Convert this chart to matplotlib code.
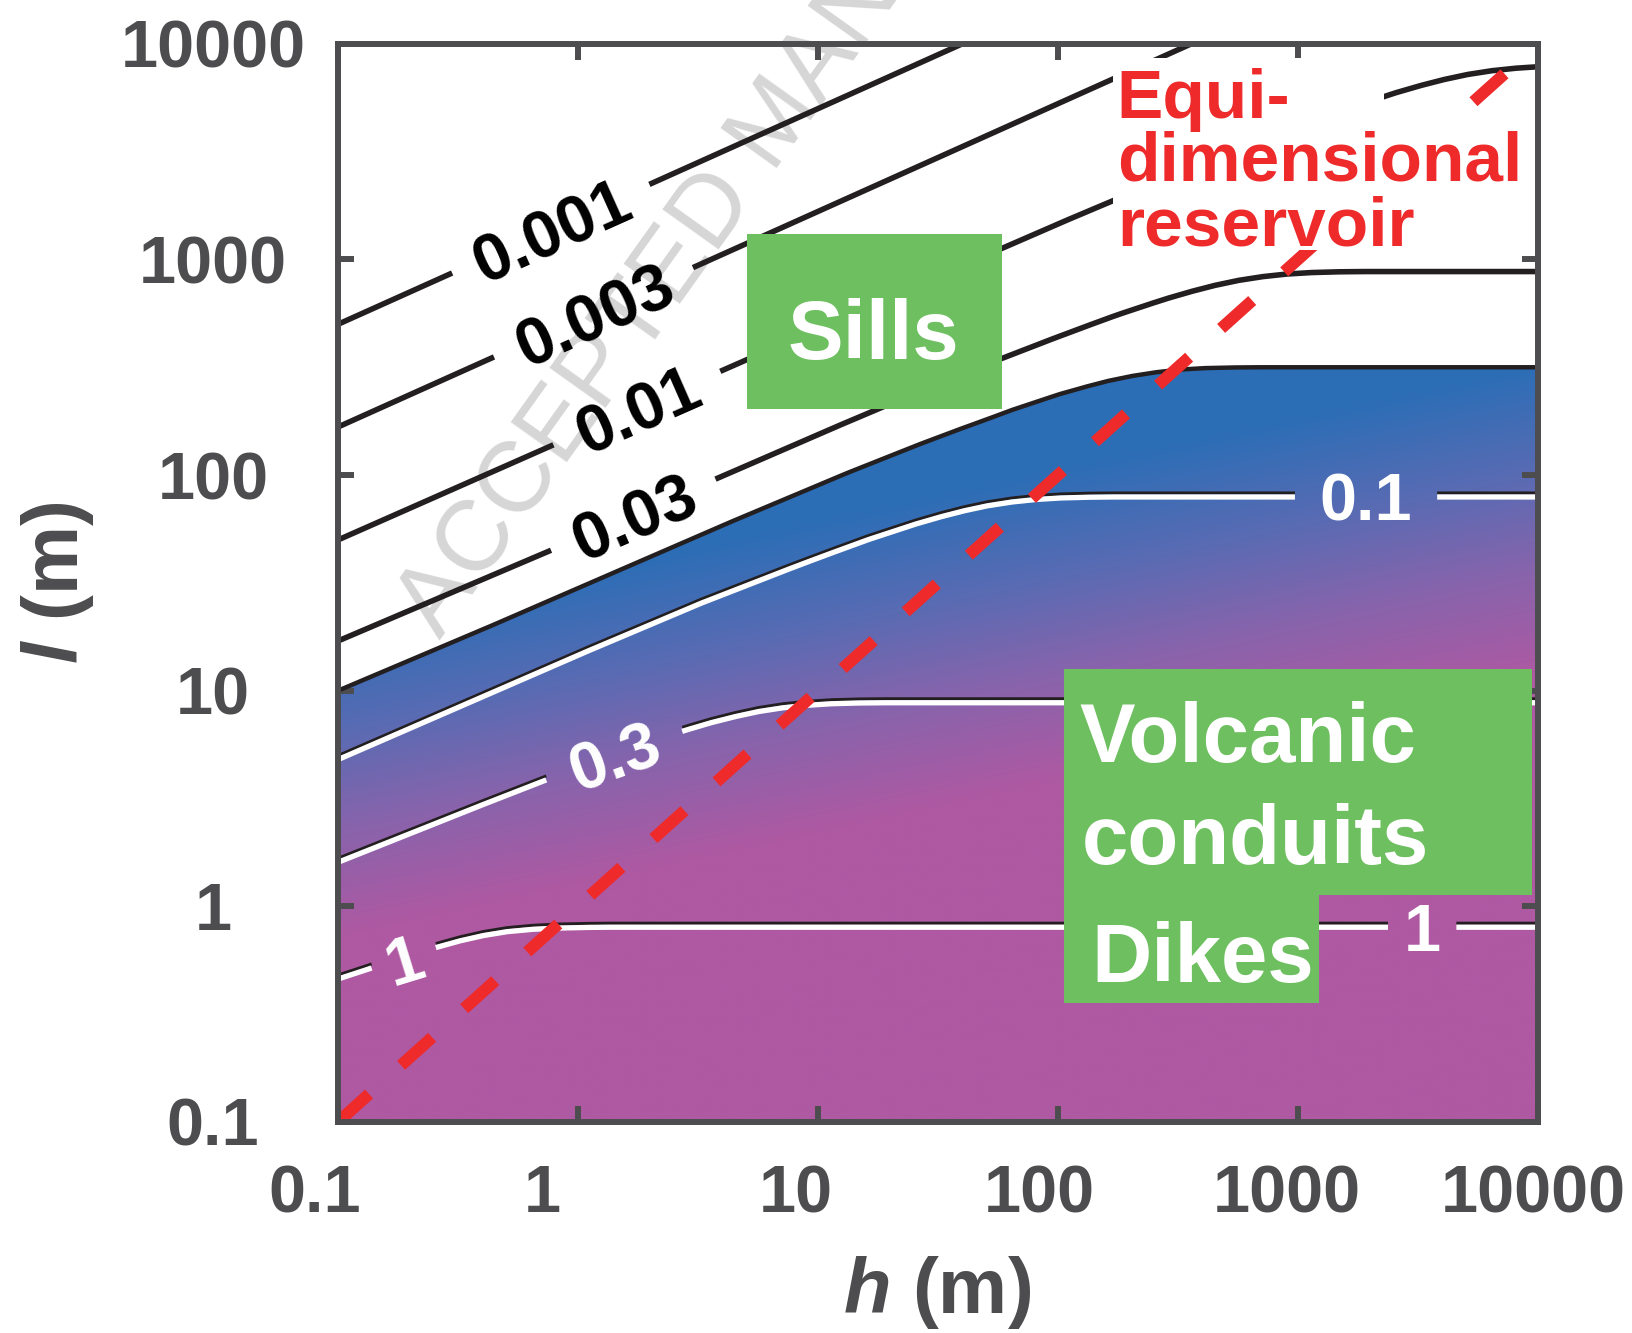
import numpy as np
import matplotlib
matplotlib.use('Agg')
from matplotlib import pyplot as plt
from matplotlib import transforms
from matplotlib.colors import LinearSegmentedColormap
from matplotlib.patches import Polygon, Rectangle
from matplotlib.ticker import NullLocator

plt.rcParams['font.family'] = ['Liberation Sans', 'DejaVu Sans']
plt.rcParams['mathtext.fontset'] = 'custom'
plt.rcParams['mathtext.it'] = 'Liberation Sans:italic:bold'
plt.rcParams['mathtext.rm'] = 'Liberation Sans:bold'

# contour lines (h in m, l in m)
h_c0001 = [0.1, 40]
l_c0001 = [500, 10000]
h_c0003 = [0.1, 360]
l_c0003 = [167, 10000]
h_c001 = [0.1, 1, 10, 100, 316, 631, 794, 1000, 1260, 1580, 2000, 2510, 3160,
          3980, 5010, 6310, 7940, 10000]
l_c001 = [50, 155, 479, 1460, 2510, 3390, 3740, 4120, 4530, 4970, 5420, 5890, 6350,
          6790, 7180, 7480, 7690, 7820]
h_c003 = [0.1, 1.11, 11.1, 35.1, 70.1, 88.2, 111, 140, 176, 222, 279, 351, 442,
          557, 701, 882, 1110, 1400, 1760, 10000]
l_c003 = [17, 53.2, 162, 279, 376, 415, 457, 503, 552, 602, 654, 705, 754,
          797, 830, 854, 868, 875, 878, 878]
h_edge = [0.1, 0.4, 4, 12.6, 25.2, 31.8, 40, 50.4, 63.2, 80, 100, 126, 159, 200,
          252, 318, 400, 504, 632, 10000]
l_edge = [10, 19.2, 58.4, 100, 136, 150, 165, 181, 199, 217, 236, 254, 272, 287,
          299, 308, 313, 315, 316, 316]
h_c01 = [0.1, 1, 3.16, 6.31, 7.94, 10, 12.6, 15.8, 20, 25.1, 31.6, 39.8, 50.1,
         63.1, 79.4, 100, 126, 158, 10000]
l_c01 = [4.79, 14.6, 25.1, 33.9, 37.4, 41.2, 45.3, 49.7, 54.2, 58.9, 63.5, 67.9, 71.8,
         74.8, 76.9, 78.2, 78.8, 79.1, 79.1]
h_c03 = [0.1, 0.35, 0.7, 0.88, 1.11, 1.4, 1.76, 2.22, 2.79, 3.51, 4.42, 5.57, 7.01,
         8.82, 11.1, 14, 17.6, 10000]
l_c03 = [1.6, 2.79, 3.77, 4.16, 4.58, 5.03, 5.52, 6.02, 6.54, 7.06, 7.54, 7.98, 8.31,
         8.54, 8.69, 8.76, 8.79, 8.79]
h_c1 = [0.1, 0.126, 0.158, 0.2, 0.251, 0.316, 0.398, 0.501, 0.631, 0.794, 1, 1.26, 10000]
l_c1 = [0.46, 0.5, 0.545, 0.59, 0.64, 0.688, 0.73, 0.762, 0.781, 0.792, 0.797, 0.8, 0.8]

# equi-dimensional reservoir l = h
h_equi = [0.1, 10000]
l_equi = [0.1, 10000]

ticks = [0.1, 1, 10, 100, 1000, 10000]
tick_text = ['0.1', '1', '10', '100', '1000', '10000']

grey = '#4d4d4f'
red = '#ee2a2b'
green = '#6dbf5f'
ink = '#231f20'

fig = plt.figure(figsize=(16.32, 13.33), dpi=100)
ax = fig.add_axes([0.2071, 0.1583, 0.7353, 0.8089])
ax.set_xscale('log')
ax.set_yscale('log')
ax.set_xlim(0.1, 10000)
ax.set_ylim(0.1, 10000)
ax.set_autoscale_on(False)
ax.xaxis.set_minor_locator(NullLocator())
ax.yaxis.set_minor_locator(NullLocator())
ax.set_xticks(ticks)
ax.set_yticks(ticks)
ax.tick_params(which='major', direction='in', length=11.5, width=4.3, color=grey,
               top=True, right=True, labelbottom=False, labelleft=False)
for sp in ax.spines.values():
    sp.set_linewidth(4.3)
    sp.set_color(grey)
    sp.set_zorder(8)

# gradient fill below the edge line
cmap = LinearSegmentedColormap.from_list('grad', [(0, '#2c6eb6'), (0.35, '#5a6bb3'),
                                                  (0.65, '#8764ac'), (1, '#ae59a2')])
uu, vv = np.meshgrid(np.linspace(0, 1, 400), np.linspace(0, 1, 400))
t = np.clip((0.461 - (vv - 0.24 * uu)) / 0.289, 0, 1)
im = ax.imshow(t, extent=[0, 1, 0, 1], transform=ax.transAxes, origin='lower',
               cmap=cmap, vmin=0, vmax=1, aspect='auto', zorder=1, interpolation='bilinear')
poly = Polygon(list(zip(h_edge, l_edge)) + [(10000, 0.1), (0.1, 0.1)],
               closed=True, transform=ax.transData, facecolor='none', edgecolor='none')
ax.add_patch(poly)
im.set_clip_path(poly)

fs_lab = 48
em = fs_lab * fig.dpi / 72.0


def level_line(h, l, color, lw, text=None, lab_h=(), gaps=(), tcolor='k', shadow=False):
    u = np.log10(h)
    v = np.log10(l)
    us = np.linspace(u[0], u[-1], 4000)
    vs = np.interp(us, u, v)
    pts = ax.transData.transform(np.column_stack([10 ** us, 10 ** vs]))
    s = np.concatenate([[0], np.cumsum(np.hypot(*np.diff(pts, axis=0).T))])
    keep = np.ones(len(us), bool)
    for hl, gap in zip(lab_h, gaps):
        s0 = np.interp(np.log10(hl), us, s)
        keep &= np.abs(s - s0) > gap / 2
        i0 = np.searchsorted(s, s0 - 15)
        i1 = min(np.searchsorted(s, s0 + 15), len(s) - 1)
        d = pts[i1] - pts[i0]
        ang = np.degrees(np.arctan2(d[1], d[0]))
        p0 = np.array([np.interp(s0, s, pts[:, 0]), np.interp(s0, s, pts[:, 1])])
        nrm = np.array([-np.sin(np.radians(ang)), np.cos(np.radians(ang))])
        anchor = ax.transData.inverted().transform(p0 - nrm * 0.358 * em)
        ax.text(anchor[0], anchor[1], text, rotation=ang, rotation_mode='anchor',
                ha='center', va='baseline', fontsize=fs_lab, fontweight='bold',
                color=tcolor, zorder=4)
    hh = np.where(keep, 10 ** us, np.nan)
    ll = np.where(keep, 10 ** vs, np.nan)
    if shadow:
        up = transforms.offset_copy(ax.transData, fig=fig, x=0, y=4, units='dots')
        ax.plot(hh, ll, color=ink, lw=2.2, transform=up, zorder=3,
                solid_capstyle='butt')
    ax.plot(hh, ll, color=color, lw=lw, zorder=3, solid_capstyle='butt')


level_line(h_c0001, l_c0001, ink, 4.0, '0.001', [0.77], [216])
level_line(h_c0003, l_c0003, ink, 4.0, '0.003', [1.16], [218])
level_line(h_c001, l_c001, ink, 4.0, '0.01', [1.76], [182])
level_line(h_c003, l_c003, ink, 4.0, '0.03', [1.70], [179])
level_line(h_edge, l_edge, ink, 3.2)
level_line(h_c01, l_c01, 'white', 3.8, '0.1', [1920], [142], 'white', shadow=True)
level_line(h_c03, l_c03, 'white', 3.8, '0.3', [1.41], [144], 'white', shadow=True)
level_line(h_c1, l_c1, 'white', 3.8, '1', [0.188, 3290], [67, 68], 'white', shadow=True)

# equi-dimensional line
ax.plot(h_equi, l_equi, color=red, lw=8.6, linestyle=(0, (3.5, 3.6)),
        dash_capstyle='butt', zorder=5)

# region boxes
for x0, y0, w, hgt in [(0.341, 0.661, 0.212, 0.1625), (0.605, 0.2105, 0.390, 0.2095),
                       (0.605, 0.110, 0.2125, 0.1005)]:
    ax.add_patch(Rectangle((x0, y0), w, hgt, transform=ax.transAxes, facecolor=green,
                           edgecolor='none', zorder=6))
box_txt = dict(transform=ax.transAxes, fontsize=60, fontweight='bold', color='white',
               ha='left', va='baseline', zorder=7)
ax.text(0.375, 0.7076, 'Sills', **box_txt)
ax.text(0.6175, 0.334, 'Volcanic', **box_txt)
ax.text(0.620, 0.239, 'conduits', **box_txt)
ax.text(0.628, 0.130, 'Dikes', **box_txt)

# white backing behind the reservoir note, then its three lines
ax.add_patch(Polygon([(0.6458, 0.8087), (0.9933, 0.8087), (0.9933, 0.9246),
                      (0.8717, 0.9246), (0.8717, 0.9867), (0.6458, 0.9867)],
                     closed=True, transform=ax.transAxes, facecolor='white',
                     edgecolor='none', zorder=5.5))
red_txt = dict(transform=ax.transAxes, fontsize=50, fontweight='bold', color=red,
               ha='left', va='baseline', zorder=7)
ax.text(0.649, 0.931, 'Equi-', **red_txt)
ax.text(0.649, 0.8736, 'dimensional', **red_txt)
ax.text(0.649, 0.8133, 'reservoir', **red_txt)

# watermark
ax.text(440 / 1632, 1 - 640 / 1333, 'ACCEPTED MANUSCRIPT', transform=fig.transFigure,
        rotation=54.5, rotation_mode='anchor', ha='left', va='baseline',
        fontsize=72, color='#d6d6d6', zorder=0.5, clip_on=False)

# tick labels
xoff = [-23, -36, -22, -19, -11, -5]
for val, txt, dx in zip(ticks, tick_text, xoff):
    tr = transforms.offset_copy(ax.get_xaxis_transform(), fig=fig, x=dx, y=0, units='dots')
    ax.text(val, -0.0835, txt, transform=tr, ha='center', va='baseline',
            fontsize=48, fontweight='bold', color=grey, clip_on=False)
    tr = transforms.offset_copy(ax.get_yaxis_transform(), fig=fig, x=0, y=-24, units='dots')
    ax.text(-0.104, val, txt, transform=tr, ha='center', va='baseline',
            fontsize=48, fontweight='bold', color=grey, clip_on=False)

fig.text(937 / 1632, 1 - 1313 / 1333, r'$h$ (m)', ha='center', va='baseline',
         fontsize=56, fontweight='bold', color=grey)
fig.text(78 / 1632, 1 - 583 / 1333, r'$l$ (m)', ha='center', va='baseline',
         rotation=90, rotation_mode='anchor', fontsize=56, fontweight='bold', color=grey)

plt.savefig('out.png', dpi=100)
